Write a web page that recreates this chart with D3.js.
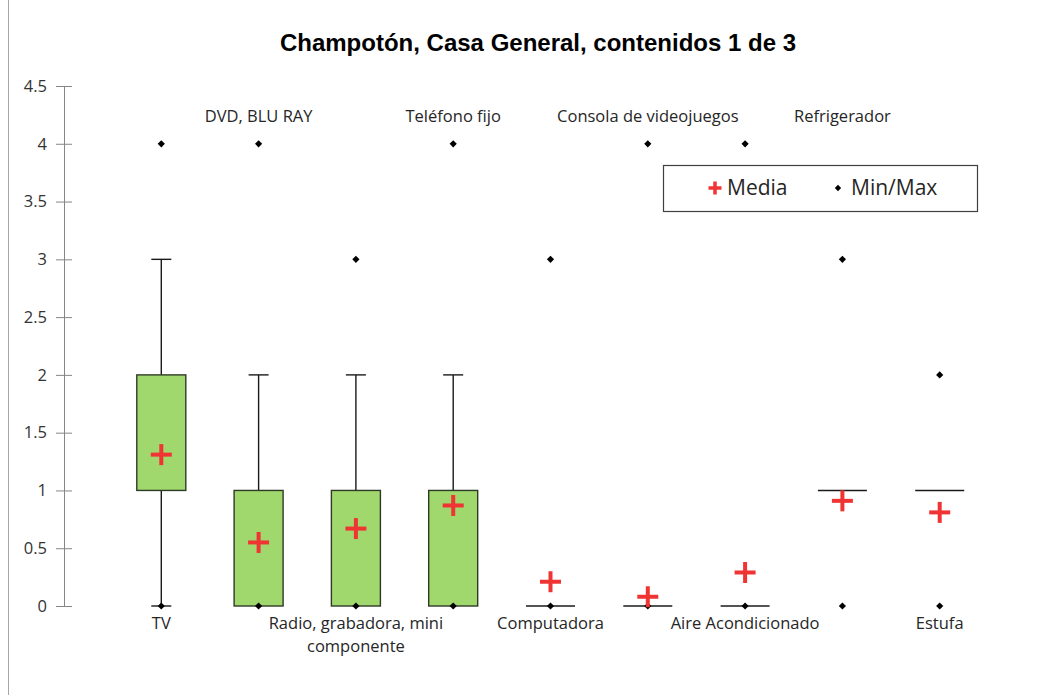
<!DOCTYPE html>
<meta charset="utf-8">
<style>
  body { margin: 0; background: #fff; }
  text { font-family: "Open Sans", "Noto Sans", sans-serif; }
  .title { font-family: "Liberation Sans", Arial, sans-serif; font-weight: bold; font-size: 24px; }
  .cat { font-size: 16.5px; fill: #262626; }
</style>
<script src="https://d3js.org/d3.v7.min.js"></script>
<div id="chart"></div>
<script>

var categories = ["TV", "DVD, BLU RAY", "Radio, grabadora, mini componente", "Teléfono fijo",
  "Computadora", "Consola de videojuegos", "Aire Acondicionado", "Refrigerador", "Estufa"];
var minVals   = [0, 0, 0, 0, 0, 0, 0, 0, 0];
var whiskLow  = [0, 0, 0, 0, 0, 0, 0, 1, 1];
var q1Vals    = [1, 0, 0, 0, 0, 0, 0, 1, 1];
var medVals   = [1, 0, 0, 0, 0, 0, 0, 1, 1];
var q3Vals    = [2, 1, 1, 1, 0, 0, 0, 1, 1];
var whiskHigh = [3, 2, 2, 2, 0, 0, 0, 1, 1];
var maxVals   = [4, 4, 3, 4, 3, 4, 4, 3, 2];
var meanVals  = [1.31, 0.55, 0.67, 0.87, 0.21, 0.08, 0.29, 0.91, 0.81];
var labelTop  = [false, true, false, true, false, true, false, true, false];
var yTicks    = [0, 0.5, 1, 1.5, 2, 2.5, 3, 3.5, 4, 4.5];

var width = 1053, height = 695;
var svg = d3.select("#chart").append("svg")
    .attr("width", width)
    .attr("height", height);

svg.append("rect").attr("width", width).attr("height", height).attr("fill", "white");

// left frame line
svg.append("line")
    .attr("x1", 8.5).attr("x2", 8.5).attr("y1", 0).attr("y2", height)
    .attr("stroke", "#a6a6a6");

svg.append("text")
    .attr("class", "title")
    .attr("x", 538).attr("y", 51)
    .attr("text-anchor", "middle")
    .text("Champotón, Casa General, contenidos 1 de 3");

var x = d3.scalePoint().domain(categories).range([64, 1037]).padding(1);
var y = d3.scaleLinear().domain([0, 4.5]).range([606, 86]);

var yAxis = svg.append("g")
    .attr("transform", "translate(64,0)")
    .call(d3.axisLeft(y).tickValues(yTicks).tickFormat(d3.format("")).tickSize(8).tickPadding(9));
yAxis.attr("font-size", 16.5).attr("font-family", "Open Sans, sans-serif");
yAxis.select(".domain").attr("stroke", "#868686");
yAxis.selectAll(".tick line").attr("stroke", "#868686").attr("x2", 8).attr("x1", -8);
yAxis.selectAll(".tick text").attr("fill", "#333");

var boxW = 49, capW = 20;
var data = categories.map(function(c, i) {
  return { cat: c, min: minVals[i], wl: whiskLow[i], q1: q1Vals[i], med: medVals[i],
           q3: q3Vals[i], wh: whiskHigh[i], max: maxVals[i], mean: meanVals[i], top: labelTop[i] };
});

var g = svg.append("g").selectAll("g").data(data).join("g")
    .attr("transform", function(d) { return "translate(" + x(d.cat) + ",0)"; });

// whiskers
g.filter(function(d) { return d.wh > d.q3; }).each(function(d) {
  var s = d3.select(this);
  s.append("line").attr("x1", 0).attr("x2", 0).attr("y1", y(d.q3)).attr("y2", y(d.wh))
    .attr("stroke", "#1a1a1a").attr("stroke-width", 1.4);
  s.append("line").attr("x1", -capW / 2).attr("x2", capW / 2).attr("y1", y(d.wh)).attr("y2", y(d.wh))
    .attr("stroke", "#1a1a1a").attr("stroke-width", 1.4);
});
g.filter(function(d) { return d.wl < d.q1; }).each(function(d) {
  var s = d3.select(this);
  s.append("line").attr("x1", 0).attr("x2", 0).attr("y1", y(d.q1)).attr("y2", y(d.wl))
    .attr("stroke", "#1a1a1a").attr("stroke-width", 1.4);
  s.append("line").attr("x1", -capW / 2).attr("x2", capW / 2).attr("y1", y(d.wl)).attr("y2", y(d.wl))
    .attr("stroke", "#1a1a1a").attr("stroke-width", 1.4);
});

// boxes
g.filter(function(d) { return d.q3 > d.q1; }).append("rect")
    .attr("x", -boxW / 2)
    .attr("y", function(d) { return y(d.q3); })
    .attr("width", boxW)
    .attr("height", function(d) { return y(d.q1) - y(d.q3); })
    .attr("fill", "#a0d86e")
    .attr("stroke", "#2e3a26")
    .attr("stroke-width", 1.4);

// flat boxes / medians
g.filter(function(d) { return d.q3 === d.q1; }).append("line")
    .attr("x1", -boxW / 2).attr("x2", boxW / 2)
    .attr("y1", function(d) { return y(d.med); })
    .attr("y2", function(d) { return y(d.med); })
    .attr("stroke", "#1a1a1a").attr("stroke-width", 1.4);

// min / max diamonds
var diamond = d3.symbol().type(d3.symbolSquare).size(26);
g.selectAll(".mm").data(function(d) { return [d.min, d.max]; }).join("path")
    .attr("class", "mm")
    .attr("d", diamond)
    .attr("transform", function(v) { return "translate(0," + y(v) + ") rotate(45)"; })
    .attr("fill", "#000");

// means
function cross(sel, size, w) {
  sel.append("line").attr("x1", -size / 2).attr("x2", size / 2).attr("y1", 0).attr("y2", 0)
    .attr("stroke", "#f03434").attr("stroke-width", w);
  sel.append("line").attr("x1", 0).attr("x2", 0).attr("y1", -size / 2).attr("y2", size / 2)
    .attr("stroke", "#f03434").attr("stroke-width", w);
}
g.append("g")
    .attr("transform", function(d) { return "translate(0," + y(d.mean) + ")"; })
    .call(cross, 21, 4);

// category labels
g.each(function(d) {
  var s = d3.select(this);
  if (d.top) {
    s.append("text").attr("class", "cat").attr("y", 122).attr("text-anchor", "middle").text(d.cat);
  } else if (d.cat.length > 25) {
    s.append("text").attr("class", "cat").attr("y", 629).attr("text-anchor", "middle").text("Radio, grabadora, mini");
    s.append("text").attr("class", "cat").attr("y", 652).attr("text-anchor", "middle").text("componente");
  } else {
    s.append("text").attr("class", "cat").attr("y", 629).attr("text-anchor", "middle").text(d.cat);
  }
});

// legend
var leg = svg.append("g").attr("transform", "translate(663,165)");
leg.append("rect").attr("x", 0.5).attr("y", 0.5).attr("width", 314).attr("height", 46)
    .attr("fill", "white").attr("stroke", "#404040").attr("stroke-width", 1.2);
leg.append("g").attr("transform", "translate(52,23)").call(cross, 13, 3.5);
leg.append("text").attr("x", 64).attr("y", 30).attr("font-size", 21).attr("fill", "#262626").text("Media");
leg.append("path").attr("d", d3.symbol().type(d3.symbolSquare).size(20)).attr("transform", "translate(175,23) rotate(45)");
leg.append("text").attr("x", 188).attr("y", 30).attr("font-size", 21).attr("fill", "#262626").text("Min/Max");

</script>
